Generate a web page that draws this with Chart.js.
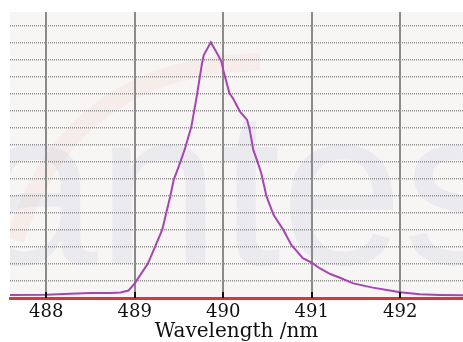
<!DOCTYPE html>
<html>
<head>
<meta charset="utf-8">
<script src="https://cdn.jsdelivr.net/npm/chart.js@4"></script>
<style>
  html, body { margin: 0; padding: 0; background: #fff; }
  #chart { display: block; }
</style>
</head>
<body>
<canvas id="chart" width="463" height="342"></canvas>
<script>
// spectrum
const wavelengths = [487.59, 488.00, 488.27, 488.50, 488.72, 488.84, 488.93, 489.00, 489.15, 489.23,
    489.31, 489.40, 489.44, 489.51, 489.57, 489.64, 489.70, 489.76, 489.78, 489.86,
    489.93, 489.98, 490.00, 490.04, 490.07, 490.11, 490.19, 490.27, 490.30, 490.34,
    490.38, 490.43, 490.49, 490.57, 490.68, 490.77, 490.90, 491.00, 491.09, 491.21,
    491.32, 491.47, 491.69, 491.85, 492.00, 492.22, 492.45, 492.71];
const intensity = [0.18, 0.19, 0.25, 0.29, 0.29, 0.32, 0.44, 0.86, 2.04, 3.02,
    4.00, 5.96, 6.94, 7.92, 8.82, 10.08, 11.84, 13.80, 14.29, 15.04,
    14.39, 13.90, 13.41, 12.63, 12.04, 11.75, 10.96, 10.47, 9.88, 8.71,
    8.12, 7.34, 5.96, 4.88, 4.00, 3.12, 2.34, 2.08, 1.75, 1.41,
    1.19, 0.86, 0.61, 0.47, 0.34, 0.22, 0.18, 0.16];
const xTicks = [488, 489, 490, 491, 492];
const yGrid = [0, 1, 2, 3, 4, 5, 6, 7, 8, 9, 10, 11, 12, 13, 14, 15, 16];
const xTitle = 'Wavelength /nm';

const serif = '"DejaVu Serif", serif';

const plotBg = {
    id: 'plotBg',
    beforeDraw(chart) {
        const { ctx, chartArea: a } = chart;
        ctx.save();
        ctx.fillStyle = '#f7f6f4';
        ctx.fillRect(a.left, a.top, a.right - a.left, a.bottom - a.top);
        ctx.beginPath();
        ctx.rect(a.left, a.top, a.right - a.left, a.bottom - a.top);
        ctx.clip();
        // faint logo swoosh + watermark
        ctx.strokeStyle = 'rgba(240, 170, 170, 0.12)';
        ctx.lineWidth = 18;
        ctx.beginPath();
        ctx.moveTo(15, 240);
        ctx.quadraticCurveTo(70, 65, 260, 62);
        ctx.stroke();
        ctx.font = '220px "Liberation Sans Narrow", "Liberation Sans"';
        ctx.fillStyle = 'rgba(185, 190, 215, 0.18)';
        ctx.textBaseline = 'alphabetic';
        ctx.fillText('antes', -25, 264);
        ctx.restore();
    },
    afterDatasetsDraw(chart) {
        const { ctx, chartArea: a, scales } = chart;
        ctx.save();
        ctx.strokeStyle = '#111';
        ctx.lineWidth = 2;
        xTicks.forEach(v => {
            const px = Math.round(scales.x.getPixelForValue(v));
            ctx.beginPath();
            ctx.moveTo(px, a.bottom);
            ctx.lineTo(px, a.bottom - 6);
            ctx.stroke();
        });
        ctx.restore();
    },
};

new Chart(document.getElementById('chart').getContext('2d'), {
    type: 'line',
    data: {
        datasets: [
            {
                data: wavelengths.map((w, i) => ({ x: w, y: intensity[i] })),
                borderColor: '#a843b4',
                borderWidth: 2,
                pointRadius: 0,
                tension: 0,
            },
        ],
    },
    options: {
        responsive: false,
        animation: false,
        layout: { padding: { top: 12, right: 0, left: 0, bottom: 0 } },
        plugins: {
            legend: { display: false },
            tooltip: { enabled: false },
        },
        scales: {
            x: {
                type: 'linear',
                min: 487.59,
                max: 492.71,
                afterBuildTicks: s => { s.ticks = xTicks.map(v => ({ value: v })); },
                afterFit: s => { s.height = 44; },
                ticks: {
                    color: '#111',
                    padding: 4,
                    font: { family: serif, size: 18 },
                    maxRotation: 0,
                },
                grid: {
                    color: '#8a8a8a',
                    lineWidth: 2,
                    drawTicks: false,
                },
                border: { color: '#d23a3a', width: 3 },
                title: {
                    display: true,
                    text: xTitle,
                    color: '#111',
                    font: { family: serif, size: 20, lineHeight: 1 },
                    padding: { top: 0, bottom: 0 },
                },
            },
            y: {
                min: 0,
                max: 16.82,
                afterBuildTicks: s => { s.ticks = yGrid.map(v => ({ value: v })); },
                afterFit: s => { s.width = 10; },
                ticks: { display: false },
                grid: {
                    color: '#8f8f8f',
                    lineWidth: 1.5,
                    drawTicks: false,
                },
                border: { display: false, dash: [1, 1] },
            },
        },
    },
    plugins: [plotBg],
});
</script>
</body>
</html>
